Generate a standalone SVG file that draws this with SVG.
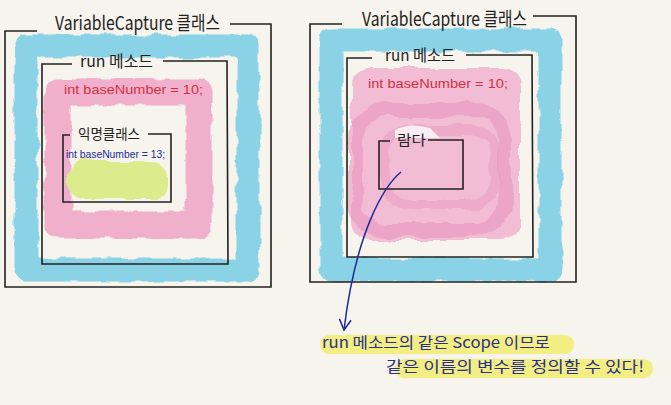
<svg xmlns="http://www.w3.org/2000/svg" width="671" height="405" viewBox="0 0 671 405">
<defs>
<filter id="rough" x="-10%" y="-10%" width="120%" height="120%">
<feTurbulence type="fractalNoise" baseFrequency="0.06" numOctaves="2" seed="3"/>
<feDisplacementMap in="SourceGraphic" scale="7" xChannelSelector="R" yChannelSelector="G"/>
</filter>
<filter id="soft" x="-10%" y="-10%" width="120%" height="120%">
<feTurbulence type="fractalNoise" baseFrequency="0.04" numOctaves="2" seed="7"/>
<feDisplacementMap in="SourceGraphic" scale="10" xChannelSelector="R" yChannelSelector="G"/>
</filter>
<marker id="arr" viewBox="0 0 12 12" refX="10" refY="6" markerWidth="14" markerHeight="14" orient="auto" markerUnits="userSpaceOnUse">
<path d="M1,1 L10,6 L1,11" fill="none" stroke="#1f2a9a" stroke-width="1.3"/>
</marker>
</defs>
<style>
.box{fill:none;stroke:#222;stroke-width:1.6}
.blue{fill:none;stroke:#8ad2e5;stroke-width:23;stroke-linejoin:round}
.pink{fill:none;stroke:#f0b0cc;stroke-width:27;stroke-linejoin:round}
.t{font-family:"Noto Sans CJK KR","Liberation Sans",sans-serif;fill:#222}
.title{font-size:19px}
.sub{font-size:16px}
.red{font-family:"Liberation Sans","Noto Sans CJK KR",sans-serif;font-size:13px;fill:#d33046}
.bt{font-family:"Liberation Sans","Noto Sans CJK KR",sans-serif;font-size:11px;fill:#1f2a9a}
.note{font-family:"Noto Sans CJK KR","Liberation Sans",sans-serif;font-size:15px;fill:#2a2f8a}
.hl{fill:#f2ec6e;opacity:0.85}
</style>
<rect width="671" height="405" fill="#f6f4ec"/>

<g id="left-class">
<rect class="blue" x="26" y="46" width="222" height="224" filter="url(#rough)"/>
<path class="box" d="M37,31 L5,31 L5,287 L271,287 L271,24 L230,24"/>
<text class="t title" x="55" y="30" textLength="165" lengthAdjust="spacingAndGlyphs">VariableCapture 클래스</text>
</g>
<g id="left-run">
<rect class="pink" x="58" y="92" width="141" height="133" filter="url(#rough)"/>
<path class="box" d="M72,64 L42,64 L42,264 L228,264 L227,61 L163,61"/>
<text class="t sub" x="80" y="67" textLength="73" lengthAdjust="spacingAndGlyphs">run 메소드</text>
<text class="red" x="64" y="94" textLength="139" lengthAdjust="spacingAndGlyphs">int baseNumber = 10;</text>
</g>
<g id="left-anon">
<rect x="68" y="161" width="98" height="38" rx="16" fill="#dcec8c" filter="url(#soft)"/>
<path class="box" d="M70,135 L63,135 L63,202 L171,202 L171,134 L148,134"/>
<text class="t" x="78" y="139" font-size="14" textLength="62" lengthAdjust="spacingAndGlyphs">익명클래스</text>
<text class="bt" x="66" y="158" textLength="99" lengthAdjust="spacingAndGlyphs">int baseNumber = 13;</text>
</g>

<g id="right-class">
<rect class="blue" x="331" y="40" width="219" height="230" filter="url(#rough)"/>
<path class="box" d="M342,24 L310,24 L310,282 L576,282 L576,16 L533,16"/>
<text class="t title" x="362" y="26" textLength="165" lengthAdjust="spacingAndGlyphs">VariableCapture 클래스</text>
</g>
<g id="right-run">
<rect x="352" y="68" width="168" height="172" rx="18" fill="#f2bcd4" filter="url(#soft)"/>
<rect x="355" y="110" width="150" height="120" rx="30" fill="none" stroke="#e997bd" stroke-width="14" opacity="0.6" filter="url(#soft)"/>
<rect x="385" y="130" width="110" height="75" rx="25" fill="none" stroke="#ea9cc0" stroke-width="10" opacity="0.5" filter="url(#soft)"/>
<path class="box" d="M372,58 L347,58 L347,257 L533,257 L532,55 L466,55"/>
<text class="t sub" x="385" y="61" textLength="70" lengthAdjust="spacingAndGlyphs">run 메소드</text>
<text class="red" x="368" y="88" textLength="140" lengthAdjust="spacingAndGlyphs">int baseNumber = 10;</text>
</g>
<g id="right-lambda">
<path d="M395,130 Q410,122 430,128 L440,138 L395,138 Z" fill="#f8eef2"/>
<path class="box" d="M390,141 L379,141 L379,189 L463,189 L463,140 L428,140"/>
<text class="t" x="397" y="145" font-size="14" textLength="29" lengthAdjust="spacingAndGlyphs">람다</text>
</g>

<g id="connectors">
<path d="M401,172 C385,185 356,230 344,330" fill="none" stroke="#1f2a9a" stroke-width="1.5" marker-end="url(#arr)"/>
</g>

<g id="note">
<rect class="hl" x="320" y="335" width="254" height="19" rx="9"/>
<rect class="hl" x="395" y="359" width="258" height="19" rx="9"/>
<text class="note" x="322" y="348" textLength="228" lengthAdjust="spacingAndGlyphs">run 메소드의 같은 Scope 이므로</text>
<text class="note" x="386" y="372" textLength="258" lengthAdjust="spacingAndGlyphs">같은 이름의 변수를 정의할 수 있다!</text>
</g>
</svg>
